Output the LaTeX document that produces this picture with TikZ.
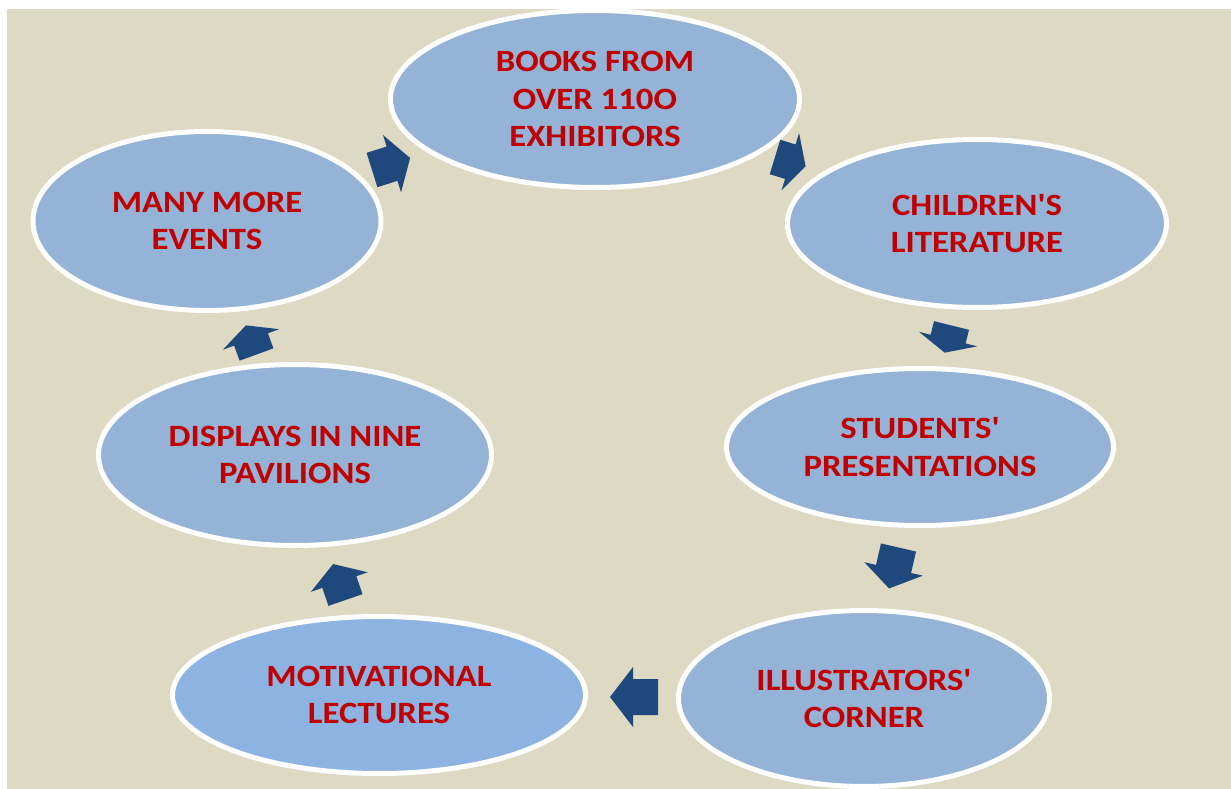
\documentclass[tikz,border=0pt]{standalone}
\usepackage{fontspec}
\setmainfont{Carlito}
\newfontfamily\labfont{Carlito}[FakeStretch=1.12]
\usetikzlibrary{shapes.geometric}
\definecolor{bgtan}{HTML}{DDD9C3}
\definecolor{ellblue}{HTML}{95B3D7}
\definecolor{ellblue2}{HTML}{8DB3E2}
\definecolor{arrowblue}{HTML}{1F497D}
\definecolor{textred}{HTML}{C00000}
\newcommand{\apos}{\symbol{"27}}
\tikzset{
  ell/.style={ellipse, fill=ellblue, draw=white, line width=5pt, inner sep=0pt,
    text=textred, align=center, font=\labfont\bfseries\fontsize{31}{37.5}\selectfont},
  pics/barrow/.style args={#1/#2}{code={
    \fill[arrowblue] (0,-18) -- ({#1-#2},-18) -- ({#1-#2},-30) -- (#1,0)
      -- ({#1-#2},30) -- ({#1-#2},18) -- (0,18) -- cycle;}}
}
\begin{document}
\begin{tikzpicture}[x=1pt,y=-1pt]
\useasboundingbox (0,0) rectangle (1231,789);
\fill[white] (0,0) rectangle (1231,789);
\fill[bgtan] (7,9) rectangle (1231,789);

\node[ell, minimum width=409pt, minimum height=177pt] (books) at (595,99) {BOOKS FROM\\OVER 110O\\EXHIBITORS};
\node[ell, minimum width=379pt, minimum height=168pt] (child) at (977,223.5) {CHILDREN\apos S\\LITERATURE};
\node[ell, minimum width=387pt, minimum height=157pt] (stud) at (920,447) {STUDENTS\apos\\PRESENTATIONS};
\node[ell, minimum width=371pt, minimum height=176pt] (illu) at (864,698.5) {ILLUSTRATORS\apos\\CORNER};
\node[ell, fill=ellblue2, minimum width=413pt, minimum height=157pt] (moti) at (379,695) {MOTIVATIONAL\\LECTURES};
\node[ell, minimum width=393pt, minimum height=181pt] (disp) at (295,455) {DISPLAYS IN NINE\\PAVILIONS};
\node[ell, minimum width=348pt, minimum height=179pt] (many) at (207,221) {MANY MORE\\EVENTS};

\pic[rotate=17.5] at (372,170) {barrow=40/19};
\pic[rotate=-17] at (775,157) {barrow=32/16};
\pic[rotate=-104] at (951.5,325.5) {barrow=28/14};
\pic[rotate=-103] at (898.5,547.5) {barrow=42/20};
\pic[rotate=180] at (658,697) {barrow=48/23};
\pic[rotate=109] at (345.5,600) {barrow=38/19};
\pic[rotate=110] at (256.5,354.5) {barrow=31/15};
\end{tikzpicture}
\end{document}
